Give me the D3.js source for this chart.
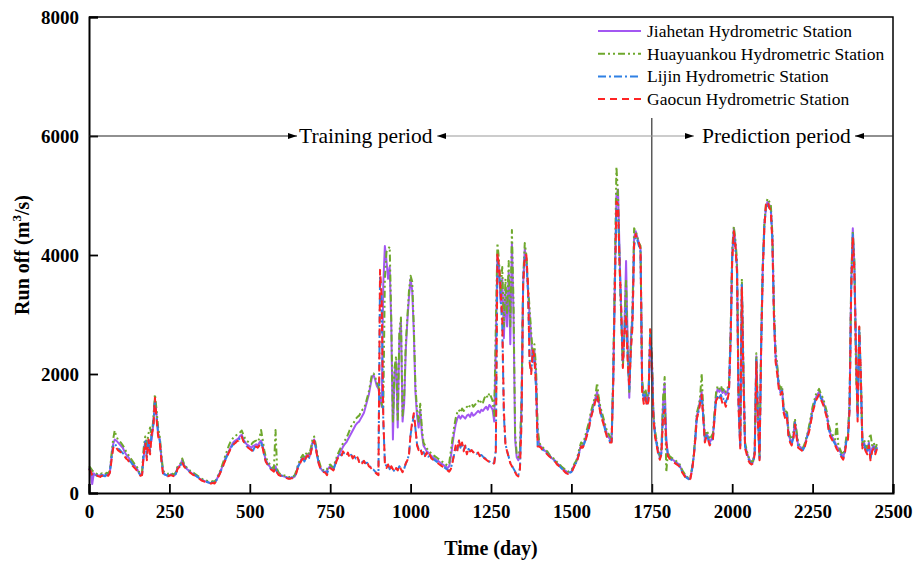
<!DOCTYPE html>
<html>
<head>
<meta charset="utf-8">
<script src="https://cdn.jsdelivr.net/npm/d3@7"></script>
<style>
  html, body { margin: 0; padding: 0; background: #fff; }
  svg { display: block; }
</style>
</head>
<body>
<svg id="chart" width="918" height="562"></svg>
<script>
// Daily runoff sampled every 5 days (day 0 .. 2450), m^3/s
const days = d3.range(0, 2451, 5);

const jiahetan = [
420,380,150,330,300,310,290,300,310,290,300,320,310,360,600,820,900,880,850,820,
790,760,700,650,620,580,540,500,470,440,400,340,300,320,600,850,720,880,800,900,
1150,1550,1300,1000,900,600,350,320,300,290,300,310,300,290,330,420,450,480,560,470,
440,400,380,350,330,320,300,280,260,240,220,210,200,190,180,170,170,180,170,200,
260,320,380,450,520,600,650,700,760,820,860,880,900,920,960,980,900,860,820,800,
780,760,790,800,820,800,850,880,800,650,550,500,460,420,400,380,450,360,320,300,
290,280,270,260,250,250,260,260,280,350,450,500,560,600,550,620,650,600,700,850,
900,780,620,500,420,380,360,350,380,420,450,420,400,480,560,620,680,720,780,820,
850,900,950,1000,1050,1100,1150,1180,1200,1250,1300,1350,1450,1550,1650,1800,1950,1980,1900,1800,
1750,1600,1450,3500,4150,3900,3600,3800,2800,900,2000,2200,1100,2600,2900,1200,1500,2400,2900,3300,
3600,3400,2700,1700,1300,1100,1400,1000,800,750,700,680,650,620,600,580,560,540,520,500,
480,460,440,420,450,600,800,1000,1150,1250,1300,1250,1300,1280,1250,1300,1320,1280,1350,1300,
1320,1350,1380,1350,1400,1380,1420,1450,1400,1480,1450,1400,1200,2500,4000,3800,3200,3600,2600,3400,
2800,3700,2500,4200,3000,900,600,550,700,1500,3500,4100,3900,3400,3000,2600,2200,2400,2000,1000,
820,780,760,720,700,680,640,600,580,560,540,500,480,450,420,400,380,360,340,350,
360,420,480,520,600,700,800,780,850,950,1050,1150,1300,1400,1500,1600,1700,1550,1400,1300,
1200,1100,1000,950,900,880,1900,3500,5000,5100,4000,3000,2200,2800,3900,2500,1600,2600,3000,4300,
4400,4300,4200,4100,1800,1600,1700,1550,1650,2600,2300,1300,1000,850,700,600,700,1500,1850,900,
650,600,580,560,540,520,500,480,420,360,320,280,260,240,250,400,600,900,1300,1400,
1550,1700,1300,900,1000,950,850,900,950,1300,1650,1750,1700,1750,1680,1720,1650,1700,1800,2600,
4000,4450,4200,3800,1500,800,3500,2000,800,700,600,550,500,520,700,2300,1300,600,2500,3800,
4500,4800,4900,4850,4800,4300,3000,2300,2100,1800,1700,1750,1400,1300,1350,1000,900,850,950,1200,
1000,800,780,760,740,800,900,1000,1100,1250,1400,1500,1600,1650,1700,1620,1580,1500,1400,1300,
1100,1000,950,900,850,780,750,700,650,600,700,900,950,1500,3500,4450,3800,2400,1300,2700,
1900,800,850,750,700,850,600,750,800,700,780
];

const huayuankou = [
450,420,380,350,330,320,310,320,330,310,320,340,330,380,650,900,1050,950,900,870,
840,800,760,700,660,620,580,540,500,470,430,360,320,350,750,950,820,1000,1100,950,
1250,1660,1400,1100,950,650,380,350,330,320,330,340,320,310,350,440,470,500,580,500,
460,420,400,370,350,340,320,300,280,260,240,230,220,210,200,190,190,200,190,220,
280,340,400,480,560,650,720,800,860,900,940,960,980,1000,1020,1050,980,920,880,860,
840,820,850,870,880,860,920,1060,900,720,600,540,500,460,430,410,1060,400,340,320,
310,300,290,280,270,270,280,280,300,380,480,540,600,640,600,660,700,650,760,900,
950,820,660,540,450,400,380,370,400,450,480,450,430,520,600,670,730,780,840,880,
920,980,1050,1120,1150,1200,1250,1280,1300,1350,1400,1420,1500,1600,1700,1850,2000,2010,1950,1850,
1800,1650,1500,1400,3600,4050,4100,4140,2900,1200,2100,2300,1200,2700,2950,1300,1600,2500,2960,3400,
3650,3550,2800,1800,1400,1200,1500,1100,850,800,750,720,690,660,640,620,600,580,560,540,
520,500,480,460,500,700,900,1100,1250,1350,1400,1350,1420,1380,1400,1450,1420,1480,1500,1450,
1480,1520,1550,1500,1560,1520,1600,1650,1600,1680,1620,1550,1300,2800,4200,3900,3400,3800,2800,3600,
3000,3900,2800,4420,3200,1000,650,600,750,1600,3600,4200,4000,3500,3100,2700,2300,2500,2100,1100,
850,800,780,740,720,700,660,620,600,580,560,520,500,470,440,420,400,380,360,370,
380,440,500,540,640,750,850,830,900,1000,1100,1200,1350,1450,1550,1650,1850,1600,1450,1350,
1250,1150,1050,1000,950,920,2000,3700,5480,5000,3800,2900,2100,2700,3600,2400,1700,2500,3100,4450,
4400,4300,4200,4150,1900,1650,1750,1600,1700,2750,2350,1350,1050,880,720,620,750,1600,1950,350,
680,620,600,580,560,540,520,500,440,380,340,300,270,250,260,420,620,950,1350,1450,
1600,2010,1400,950,1050,1000,900,950,1000,1350,1700,1800,1750,1800,1720,1760,1700,1750,1850,2700,
4100,4480,4250,3900,1600,850,3600,2100,850,720,620,570,520,540,720,2350,1350,620,2550,3850,
4550,4850,4950,4900,4850,4350,3100,2400,2150,1850,1750,1800,1450,1350,1400,1050,950,900,1000,1250,
1050,850,800,780,760,820,920,1020,1150,1300,1450,1550,1650,1700,1750,1680,1620,1550,1450,1350,
1150,1050,1000,950,900,1200,800,740,680,640,740,950,1000,1550,3600,4400,3900,2000,1400,2800,
1950,850,900,800,750,900,1000,800,850,750,820
];

const lijin = [
410,380,310,290,280,300,290,280,300,290,280,310,300,350,580,780,830,790,750,730,
700,670,640,600,580,540,520,480,450,420,390,340,300,310,680,870,600,920,700,1050,
1150,1550,1300,1000,880,580,340,310,300,290,300,310,300,290,320,410,440,470,530,460,
430,400,370,350,330,310,300,280,260,240,220,210,200,190,180,170,170,180,170,200,
260,310,370,430,510,570,630,690,750,790,830,850,880,890,930,960,880,840,790,770,
750,730,710,770,790,770,810,840,770,630,530,490,450,410,390,370,400,350,310,300,
290,280,270,260,250,250,260,260,280,350,440,490,550,590,530,610,640,590,690,830,
890,770,610,490,410,380,360,350,330,390,430,410,390,470,550,610,650,630,680,660,
640,660,620,640,600,610,580,590,540,550,520,530,500,510,460,440,410,390,360,330,
310,3650,3200,1200,520,440,470,400,440,410,360,410,390,450,410,360,410,490,560,640,
980,1150,1300,1080,820,740,750,670,690,630,670,610,630,590,570,550,530,510,490,470,
450,430,410,390,370,410,520,640,780,720,880,760,840,720,790,670,740,710,710,690,
690,660,670,630,640,610,590,570,550,530,510,490,510,720,3950,3700,3300,2800,1300,820,
710,610,510,460,410,360,320,300,420,1250,3600,3950,3900,3400,2250,2050,2350,2250,1750,800,
790,770,730,710,690,660,630,610,580,550,530,490,470,440,410,390,360,340,330,340,
350,410,470,510,590,690,790,770,830,910,1010,1110,1260,1360,1460,1560,1600,1480,1360,1260,
1160,1060,960,910,860,860,1850,3450,4800,4750,3900,3000,2150,2650,3100,2300,1750,2450,2900,4150,
4300,4250,4150,4050,1750,1550,1650,1500,1600,2650,2250,1300,980,820,670,580,670,1350,1450,870,
630,590,560,540,520,500,480,460,410,350,310,270,250,230,250,390,590,890,1260,1360,
1520,1660,1270,870,960,910,820,860,910,1260,1580,1650,1600,1650,1560,1600,1520,1600,1740,2550,
3950,4350,4100,3750,1450,780,3500,1950,780,680,580,520,490,510,670,2250,1250,570,2450,3750,
4500,4800,4850,4800,4750,4250,2950,2250,2050,1780,1680,1720,1380,1280,1320,980,880,820,920,1180,
980,780,760,740,720,780,880,980,1080,1220,1380,1480,1580,1620,1680,1600,1550,1480,1380,1280,
1080,980,920,870,820,760,720,670,620,580,670,870,920,1450,3450,4350,3750,2350,1250,2750,
1950,780,820,720,680,820,580,720,770,680,760
];

const gaocun = [
400,370,300,280,270,290,280,270,290,280,270,300,290,340,550,750,800,760,720,700,
680,650,620,580,560,520,500,460,430,400,370,320,290,300,650,850,550,900,650,1000,
1100,1600,1250,950,850,550,330,300,290,280,290,300,290,280,310,400,430,460,520,450,
420,390,360,340,320,300,290,270,250,230,210,200,190,180,170,160,160,170,160,190,
250,300,360,420,500,560,620,680,740,780,820,840,870,880,920,950,870,830,780,760,
740,720,700,760,780,760,800,830,760,620,520,480,440,400,380,360,420,340,300,290,
280,270,260,250,240,240,250,250,270,340,430,480,540,580,520,600,630,580,680,820,
880,760,600,480,400,370,350,340,300,380,420,400,380,460,540,600,640,620,700,650,
620,680,600,650,580,620,560,600,520,560,500,540,480,520,450,430,400,380,350,320,
300,3750,3300,1300,500,420,480,380,450,400,350,420,380,460,400,350,420,500,550,650,
1000,1200,1340,1100,800,720,760,650,700,620,680,600,640,580,560,540,520,500,480,460,
440,420,400,380,360,400,500,650,800,700,900,750,850,700,800,650,750,700,720,680,
700,650,680,620,650,600,580,560,540,520,500,480,500,700,4030,3800,3400,2900,1400,800,
700,600,500,450,400,350,300,280,400,1200,3500,4000,4000,3500,2200,2000,2400,2300,1800,780,
780,760,720,700,680,650,620,600,570,540,520,480,460,430,400,380,350,330,320,330,
340,400,460,500,580,680,780,760,820,900,1000,1100,1250,1350,1450,1550,1650,1500,1350,1250,
1150,1050,950,900,850,850,1800,3400,4900,4850,3800,3100,2100,2700,3000,2200,1800,2400,2800,4200,
4350,4250,4200,4100,1700,1500,1600,1450,1550,2750,2200,1250,950,800,650,560,650,1300,1400,850,
620,580,550,530,510,490,470,450,400,340,300,260,240,220,240,380,580,880,1250,1350,
1500,1650,1250,850,950,900,800,850,900,1250,1550,1600,1550,1600,1500,1550,1450,1550,1700,2500,
3900,4400,4150,3700,1400,750,3450,1900,750,650,550,500,480,500,650,2200,1200,550,2400,3700,
4450,4850,4900,4800,4750,4200,2900,2200,2000,1750,1650,1700,1350,1250,1300,950,850,800,900,1150,
950,760,740,720,700,760,860,950,1050,1200,1350,1450,1550,1600,1650,1580,1520,1450,1350,1250,
1050,950,900,850,800,740,700,650,600,560,650,850,900,1400,3400,4300,3700,2300,1200,2800,
2000,750,800,700,650,800,550,700,750,650,740
];

const seriesNames = [
  "Jiahetan Hydrometric Station",
  "Huayuankou Hydrometric Station",
  "Lijin Hydrometric Station",
  "Gaocun Hydrometric Station"
];
const seriesValues = [jiahetan, huayuankou, lijin, gaocun];
const seriesColors = ["#a357f2", "#6ea82c", "#2f80e4", "#ff2424"];
const seriesDash = ["none", "7,3,2,3,2,3", "8,3,2,3", "7,5"];

const xTicks = [0, 250, 500, 750, 1000, 1250, 1500, 1750, 2000, 2250, 2500];
const yTicks = [0, 2000, 4000, 6000, 8000];
const splitDay = 1750;
const periodLevel = 6000;

const svg = d3.select("#chart");
const serif = "'Liberation Serif','Times New Roman',serif";

const x = d3.scaleLinear().domain([0, 2500]).range([89, 893]);
const y = d3.scaleLinear().domain([0, 8000]).range([493, 17]);

// series lines
const line = d3.line().x((d, i) => x(days[i])).y(d => y(d));
seriesValues.forEach((vals, k) => {
  svg.append("path")
    .datum(vals)
    .attr("d", line)
    .attr("fill", "none")
    .attr("stroke", seriesColors[k])
    .attr("stroke-width", 2)
    .attr("stroke-dasharray", seriesDash[k])
    .attr("stroke-linejoin", "round");
});

// frame (top and right)
svg.append("path")
  .attr("d", `M${x(0)},${y(8000)}H${x(2500)}V${y(0)}`)
  .attr("fill", "none").attr("stroke", "#000").attr("stroke-width", 1.5);

// axes
const yAxis = svg.append("g")
  .attr("transform", `translate(${x(0)},0)`)
  .call(d3.axisLeft(y).tickValues(yTicks).tickSize(-9).tickPadding(10).tickFormat(d3.format("d")));
const xAxis = svg.append("g")
  .attr("transform", `translate(0,${y(0)})`)
  .call(d3.axisBottom(x).tickValues(xTicks).tickSize(-9).tickPadding(12).tickFormat(d3.format("d")));
[xAxis, yAxis].forEach(g => {
  g.select(".domain").attr("stroke", "#000").attr("stroke-width", 2);
  g.selectAll(".tick line").attr("stroke", "#000").attr("stroke-width", 1.8);
  g.selectAll(".tick text")
    .attr("fill", "#000")
    .style("font-family", serif)
    .style("font-weight", "bold")
    .style("font-size", "19px");
});

// axis titles
svg.append("text")
  .attr("x", 491).attr("y", 555)
  .attr("text-anchor", "middle")
  .style("font-family", serif).style("font-weight", "bold").style("font-size", "20px")
  .text("Time (day)");

const yTitle = svg.append("text")
  .attr("transform", "translate(29,255) rotate(-90)")
  .attr("text-anchor", "middle")
  .style("font-family", serif).style("font-weight", "bold").style("font-size", "20px");
yTitle.append("tspan").text("Run off (m");
yTitle.append("tspan").attr("dy", -8).style("font-size", "13px").text("3");
yTitle.append("tspan").attr("dy", 8).text("/s)");

// split between training and prediction periods
svg.append("line")
  .attr("x1", x(splitDay)).attr("x2", x(splitDay))
  .attr("y1", 118).attr("y2", y(0))
  .attr("stroke", "#333").attr("stroke-width", 1.2);

// period annotations
const py = y(periodLevel);
function arrowHead(tipX, dir) {
  // dir = +1 points right, -1 points left
  svg.append("path")
    .attr("d", `M${tipX},${py}L${tipX - dir * 9},${py - 3}L${tipX - dir * 9},${py + 3}Z`)
    .attr("fill", "#000");
}
function seg(x1, x2, color) {
  svg.append("line").attr("x1", x1).attr("x2", x2).attr("y1", py).attr("y2", py)
    .attr("stroke", color).attr("stroke-width", 1.1);
}
seg(x(0), 297, "#222");
arrowHead(297, 1);
seg(437, 694, "#999");
arrowHead(437, -1);
arrowHead(694, 1);
seg(855, x(2500), "#222");
arrowHead(855, -1);

svg.append("text").attr("x", 299).attr("y", py + 7)
  .style("font-family", serif).style("font-size", "21.5px").text("Training period");
svg.append("text").attr("x", 702).attr("y", py + 7)
  .style("font-family", serif).style("font-size", "21.5px").text("Prediction period");

// legend
const legend = svg.append("g");
seriesNames.forEach((name, k) => {
  const ly = 31 + k * 22.7;
  legend.append("line")
    .attr("x1", 598).attr("x2", 641).attr("y1", ly).attr("y2", ly)
    .attr("stroke", seriesColors[k]).attr("stroke-width", 2)
    .attr("stroke-dasharray", seriesDash[k]);
  legend.append("text")
    .attr("x", 647).attr("y", ly + 6)
    .style("font-family", serif).style("font-size", "17.5px")
    .text(name);
});
</script>
</body>
</html>
